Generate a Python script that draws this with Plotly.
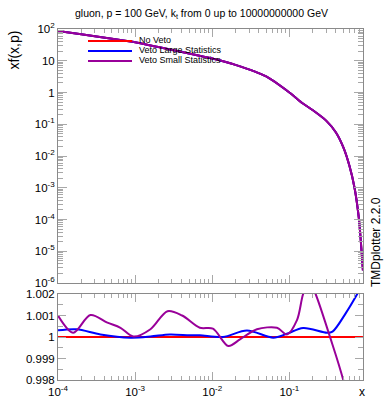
import plotly.graph_objects as go

# ---------------- data ----------------
x_main = [1e-4, 2e-4, 5e-4, 1e-3, 2e-3, 5e-3, 1e-2, 2e-2, 5e-2, 0.1, 0.15, 0.2,
          0.3, 0.4, 0.5, 0.6, 0.7, 0.8, 0.9]
xf_noveto = [87, 68, 49, 38, 27, 17, 11.7, 7.4, 3.2, 1.0, 0.45, 0.28,
             0.13, 0.056, 0.019, 0.005, 0.001, 1e-4, 2.5e-6]
xf_large = xf_noveto
xf_small = xf_noveto

x_ratio_red = [1e-4, 0.9]
ratio_red = [1.0, 1.0]

x_ratio_blue = [1e-4, 1.74e-4, 3.55e-4, 8.7e-4, 1.58e-3, 2.82e-3, 5.1e-3, 6.9e-3,
                1.38e-2, 2.82e-2, 6.2e-2, 9.3e-2, 0.151, 0.309, 0.363, 0.537, 0.759, 0.90]
ratio_blue = [1.00031, 1.00036, 1.00012, 0.99997, 1.00002, 1.00012, 1.00008, 1.00008,
              1.0, 1.0003, 0.99997, 1.00015, 1.00042, 1.0002, 1.00025, 1.0011, 1.002, 1.0025]

x_ratio_purple = [1e-4, 1.58e-4, 2.63e-4, 4.37e-4, 6.46e-4, 9.5e-4, 1.58e-3, 2.63e-3,
                  4.07e-3, 6.9e-3, 1.02e-2, 1.62e-2, 2.29e-2, 3.8e-2, 6.9e-2, 9.3e-2,
                  0.126, 0.151, 0.182, 0.219, 0.339, 0.50, 0.90]
ratio_purple = [1.001, 1.0002, 1.00102, 1.00067, 1.00043, 1.00002, 1.00036, 1.0012,
                1.001, 1.00043, 1.00039, 0.99958, 0.99989, 1.00036, 1.00043, 1.00012,
                1.0008, 1.002, 1.0026, 1.002, 0.99997, 0.998, 0.994]

names = ["No Veto", "Veto Large Statistics", "Veto Small Statistics"]
colors = ["#ff0000", "#0000ff", "#990099"]

top_tickvals = [1e2, 10, 1, 1e-1, 1e-2, 1e-3, 1e-4, 1e-5, 1e-6]
top_ticktext = ["10<sup>2</sup>", "10", "1", "10<sup>-1</sup>", "10<sup>-2</sup>",
                "10<sup>-3</sup>", "10<sup>-4</sup>", "10<sup>-5</sup>", "10<sup>-6</sup>"]
x_tickvals = [1e-4, 1e-3, 1e-2, 1e-1]
x_ticktext = ["10<sup>-4</sup>", "10<sup>-3</sup>", "10<sup>-2</sup>", "10<sup>-1</sup>"]
r_tickvals = [0.998, 0.999, 1.0, 1.001, 1.002]
r_ticktext = ["0.998", "0.999", "1", "1.001", "1.002"]
r_minor = [0.9985, 0.9995, 1.0005, 1.0015]

x_minor = [k * 10.0 ** e for e in range(-4, 0) for k in range(2, 10)]
y_minor = [k * 10.0 ** e for e in range(-6, 2) for k in range(2, 10)]

# ---------------- figure ----------------
W, H = 385, 396
L, R, T, B = 58, 363, 29, 380
def px2x(p): return (p - L) / (R - L)
def py2y(p): return (B - p) / (B - T)

fig = go.Figure()
for nm, col, yy in zip(names, colors, [xf_noveto, xf_large, xf_small]):
    fig.add_trace(go.Scatter(x=x_main, y=yy, mode="lines", name=nm,
                             line=dict(color=col, width=2, shape="spline", smoothing=0.6),
                             xaxis="x", yaxis="y", showlegend=False))
for xr, yr, col in [(x_ratio_red, ratio_red, colors[0]),
                    (x_ratio_blue, ratio_blue, colors[1]),
                    (x_ratio_purple, ratio_purple, colors[2])]:
    fig.add_trace(go.Scatter(x=xr, y=yr, mode="lines", showlegend=False,
                             line=dict(color=col, width=2, shape="spline", smoothing=0.9),
                             xaxis="x2", yaxis="y2"))

frame = "#8a8a8a"
tickc = "#a8a8a8"
font = "Liberation Sans, Arial, sans-serif"
tf = dict(size=11.5, family=font)
xr_log = [-4, -0.045]

common_x = dict(type="log", range=xr_log, showgrid=False, zeroline=False, automargin=False,
                showline=True, linecolor=frame, linewidth=1, mirror="ticks",
                ticks="inside", ticklen=8, tickcolor=tickc,
                minor=dict(ticks="inside", ticklen=4, tickcolor=tickc, showgrid=False,
                           tickvals=x_minor),
                tickvals=x_tickvals, ticktext=x_ticktext)

top_dom = [py2y(283), 1]
bot_dom = [0, py2y(294)]

fig.update_layout(
    width=W, height=H,
    margin=dict(l=L, r=W - R, t=T, b=H - B, autoexpand=False),
    paper_bgcolor="white", plot_bgcolor="white",
    font=dict(family=font, size=12, color="black"),
    showlegend=False,
    xaxis=dict(common_x, domain=[0, 1], anchor="y", showticklabels=False, matches="x2"),
    yaxis=dict(type="log", range=[-6, 2], domain=top_dom, anchor="x", automargin=False,
               showgrid=False, zeroline=False, showline=True, linecolor=frame,
               mirror="ticks", ticks="inside", ticklen=9, tickcolor=tickc,
               minor=dict(ticks="inside", ticklen=5, tickcolor=tickc, showgrid=False,
                          tickvals=y_minor),
               tickvals=top_tickvals, ticktext=top_ticktext, tickfont=tf),
    xaxis2=dict(common_x, domain=[0, 1], anchor="y2", tickfont=tf, ticklabelstandoff=1),
    yaxis2=dict(range=[0.998, 1.002], domain=bot_dom, anchor="x2", automargin=False,
                showgrid=False, zeroline=False, showline=True, linecolor=frame,
                mirror="ticks", ticks="inside", ticklen=8, tickcolor=tickc,
                minor=dict(ticks="inside", ticklen=5, tickcolor=tickc, tickvals=r_minor,
                           showgrid=False),
                tickvals=r_tickvals, ticktext=r_ticktext, tickfont=tf),
)

# legend (drawn manually to match compact ROOT legend spacing)
for i, (nm, col) in enumerate(zip(names, colors)):
    yl = 41 + 10 * i
    fig.add_shape(type="line", xref="paper", yref="paper",
                  x0=px2x(88), x1=px2x(132), y0=py2y(yl), y1=py2y(yl),
                  line=dict(color=col, width=2))
    fig.add_annotation(text=nm, xref="paper", yref="paper", x=px2x(137), y=py2y(yl - 1),
                       xanchor="left", yanchor="middle", showarrow=False,
                       font=dict(size=9, family=font))

fig.add_annotation(text="gluon, p = 100 GeV, k<sub>t</sub> from 0 up to 10000000000 GeV",
                   xref="paper", yref="paper", x=px2x(201), y=py2y(5),
                   xanchor="center", yanchor="top",
                   showarrow=False, font=dict(size=10.5, family=font))
fig.add_annotation(text="xf(x,p)", xref="paper", yref="paper", x=px2x(13), y=py2y(29),
                   xanchor="center", yanchor="top", textangle=-90, showarrow=False,
                   font=dict(size=14, family=font))
fig.add_annotation(text="TMDplotter 2.2.0", xref="paper", yref="paper", x=px2x(385),
                   y=py2y(242), xanchor="right", textangle=-90, showarrow=False,
                   font=dict(size=12, family=font))
fig.add_annotation(text="x", xref="paper", yref="paper", x=px2x(362), y=py2y(383),
                   xanchor="center", yanchor="top",
                   showarrow=False, font=dict(size=12, family=font))

fig.write_html("out.html", config={"displayModeBar": False},
               post_script="document.body.style.margin='0px';document.body.style.overflow='hidden';")
